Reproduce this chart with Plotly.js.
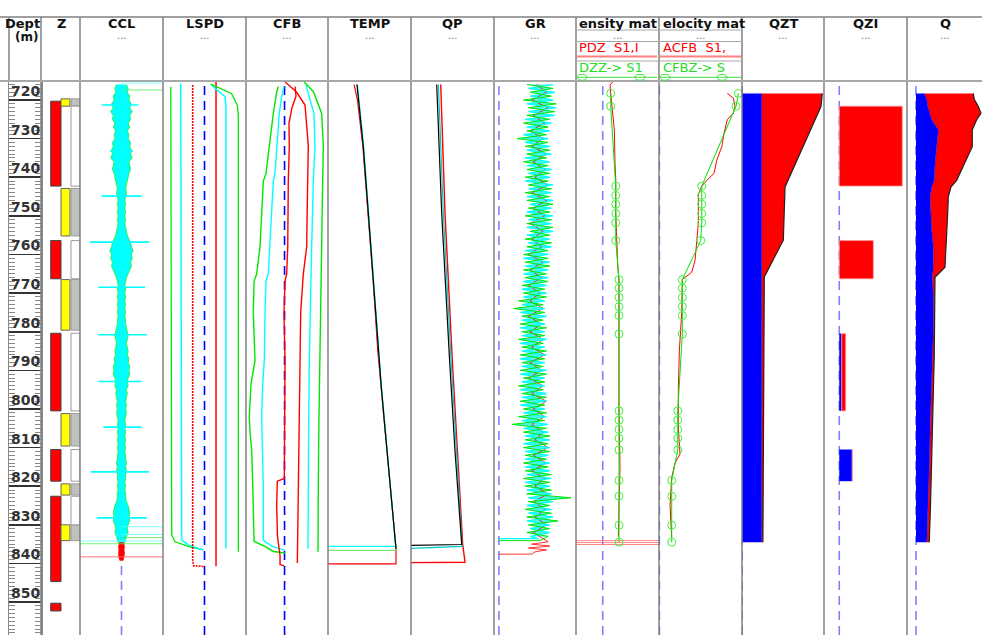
<!DOCTYPE html>
<html><head><meta charset="utf-8">
<script src="https://cdn.plot.ly/plotly-3.0.1.min.js"></script>
<style>html,body{margin:0;padding:0;background:#fff}#chart{width:982px;height:635px}</style>
</head><body><div id="chart"></div>
<script>
// ---------------- DATA (depth in m) ----------------
const depthTicks = [720, 730, 740, 750, 760, 770, 780, 790, 800, 810, 820, 830, 840, 850, 860];

// Z track: perforated (red), tested (yellow) intervals, open boxes
const zRedTop = [720.3, 756.4, 780.4, 810.5, 822.6, 850.3];
const zRedBottom = [742.3, 766.3, 800.5, 818.7, 844.7, 852.3];
const zYellowTop = [719.7, 742.9, 766.5, 801.2, 819.4, 830.0];
const zYellowBottom = [721.6, 755.2, 779.6, 809.6, 822.3, 834.1];
const zOpenTop = [721.6, 756.4, 780.4, 810.5, 822.6];
const zOpenBottom = [742.3, 766.3, 800.5, 818.7, 830.0];

// CCL: band half-width sampled every 1 m from 716 m
const cclTop = 716, cclStep = 1;
const cclHalfWidth = [6,8,7,10,9,12,10,13,10,11, 8,10,7,9,8,11,10,12,11,13, 9,10,11,9,8,7,6,5,6,5,
  4,5,4,5,4,5,4,5,6,7, 9,11,12,14,12,13,11,12,10,8, 6,5,4,5,4,5,4,5,4,5,
  4,5,5,6,7,8,7,6,7,8, 7,9,8,10,9,10,8,7,8,6, 7,6,5,6,5,6,5,4,5,4,
  5,4,5,4,5,4,5,5,6,5, 6,5,5,4,5,4,5,5,6,8, 9,10,9,10,8,7,8,6,5,3];
const cclRedDepth = [834.5, 835.5, 836.5, 837.5, 838.5, 839.2];
const cclRedHalfWidth = [2, 3.5, 3, 3.5, 3, 2];
const cclSpikeDepth = [721.3, 733.2, 744.9, 756.8, 768.5, 780.8, 792.9, 804.7, 816.3, 828.2];
const cclSpikeLeft = [-23.9, -13.9, -23.9, -38, -28, -28, -28, -21.9, -37.1, -29.9];
const cclSpikeRight = [20.2, 13.9, 24.3, 33.5, 28.3, 30.4, 24.3, 24.3, 33.1, 30.4];
const cclCyanTailDepth = [715.6, 830.5, 832.5, 834.2];
const cclCyanTailFrom = [0, 0, 0, -50];
const cclCyanTailTo = [50, 50, 50, 50];
const cclGreenTailDepth = [717.4, 833.3, 834.9];
const cclGreenTailFrom = [0, 0, -50];
const cclGreenTailTo = [50, 50, 50];
const cclRedTailDepth = [838.3];
const cclRedTailFrom = [-50];
const cclRedTailTo = [50];

// LSPD
const lspdGreenLDepth = [716.6, 740, 780, 820, 832.6, 834.4, 835.7, 836.5];
const lspdGreenL = [-32.5, -32.3, -32, -31.8, -31.6, -28.4, -14, -1];
const lspdCyanLDepth = [715.7, 760, 800, 833.9, 835.2, 836.5];
const lspdCyanL = [-22.9, -22.8, -22.6, -22, -15.6, -1.2];
const lspdRedLDepth = [716.1, 780, 839.1, 840.6, 840.8];
const lspdRedL = [-11.4, -11.4, -11.4, -10.5, -1];
const lspdRedRDepth = [715.3, 780, 840.7];
const lspdRedR = [11.1, 11.1, 11.1];
const lspdCyanRDepth = [716.1, 717, 719.1, 722, 780, 836.1];
const lspdCyanR = [6.9, 10, 19.8, 20.7, 20.7, 20.7];
const lspdGreenRDepth = [715.9, 718.3, 721.3, 724, 780, 837];
const lspdGreenR = [6, 26, 31.6, 32.6, 32.6, 32.6];

// CFB
const cfbGreenLDepth = [716.5, 718, 723.5, 728, 732, 739, 741, 748, 753, 758, 765, 767, 775, 781, 787.5, 793.5, 798, 802, 806, 811, 819.5, 828, 834.3, 835.6, 836.9, 837.3];
const cfbGreenL = [-7.6, -9.6, -13.7, -16.5, -18.6, -22.6, -25.9, -27.9, -28.7, -29.9, -34, -37.2, -38.1, -37.2, -36, -40.9, -42.1, -43, -42.1, -40, -38.8, -38.1, -37.2, -23.8, -13.7, 0.6];
const cfbCyanLDepth = [716.5, 719, 723.5, 732, 739, 741, 748, 758, 765, 767, 775, 787.5, 793.5, 802, 811, 820, 834, 835.5, 836.6];
const cfbCyanL = [-0.7, -3.5, -6.4, -8.8, -11.6, -13.7, -15.7, -17.7, -19.8, -22.6, -23.8, -24.7, -26.6, -27.9, -26.6, -25.9, -25.9, -15.3, 0.6];
const cfbRedLDepth = [716.5, 719, 722, 726, 732, 741, 758, 765, 767, 775, 787.5, 800, 818, 818.7, 825, 833, 838, 840.3, 840.6];
const cfbRedL = [12.8, 14, 9.1, 5.4, 5.8, 4.6, 3.9, 2.6, 0.6, -0.7, 0.6, 0.6, -0.3, -8.8, -9.6, -8.6, -5.5, -5.5, -0.7];
const cfbRedRDepth = [715.3, 718, 721.3, 726, 732, 741, 758, 765, 770, 775, 787.5, 802, 819, 838, 839.9];
const cfbRedR = [0.6, 14.8, 25, 27, 29, 28.2, 27, 22.9, 20.9, 19.7, 18.9, 18, 16.8, 15.6, 15.6];
const cfbCyanRDepth = [716.2, 723.5, 732, 741, 758, 775, 787.5, 802, 819, 836.2];
const cfbCyanR = [26.2, 35.9, 37.1, 35.1, 33.1, 31, 30.2, 29.5, 28.6, 28.6];
const cfbGreenRDepth = [715.3, 717.8, 723.5, 732, 741, 758, 775, 787.5, 802, 819, 837];
const cfbGreenR = [23.7, 35.1, 45.3, 47.3, 46.5, 45.3, 43.2, 42.4, 42, 41.2, 40.8];

// TEMP
const tempRedDepth = [716, 720, 732, 749.4, 766.8, 785, 793.6, 802.3, 810.9, 819.6, 828.2, 836, 840.1, 840.1];
const tempRed = [31.5, 35.5, 42, 48.3, 54.4, 60, 63.7, 67.3, 71, 74.6, 78.3, 81.9, 81.9, 0];
const tempGreenDepth = [716, 732, 749.4, 766.8, 785, 793.6, 802.3, 810.9, 819.6, 828.2, 836.6, 836.6];
const tempGreen = [35, 42.6, 48.7, 54.7, 60.3, 64, 67.6, 71.2, 74.8, 78.4, 81.9, 0];
const tempCyanDepth = [716, 732, 749.4, 766.8, 785, 793.6, 802.3, 810.9, 819.6, 828.2, 835.6, 835.6];
const tempCyan = [35.5, 43, 49, 55, 60.5, 64.2, 67.8, 71.4, 75, 78.6, 81.6, 0];
const tempBlackDepth = [716, 732, 749.4, 766.8, 785, 793.6, 802.3, 810.9, 819.6, 828.2, 836.2];
const tempBlack = [34.9, 42.5, 48.6, 54.6, 60.2, 63.9, 67.5, 71.1, 74.7, 78.3, 81.9];

// QP
const qpRedDepth = [716, 749.4, 787.5, 810.9, 835.1, 839.7, 839.8];
const qpRed = [35.8, 41, 49.8, 55.8, 62.3, 65.1, 0];
const qpCyanDepth = [716, 749.4, 787.5, 810.9, 835.6, 836.1];
const qpCyan = [33, 39, 48.3, 54.5, 61.6, 0];
const qpBlackDepth = [716, 749.4, 787.5, 810.9, 835.1, 835.3];
const qpBlack = [31, 37, 46.5, 53, 61.1, 0];

// GR sampled every 1 m (green, cyan) / 2 m (red) from 716 m
const grTop = 716, grStep = 1, grRedStep = 2;
const grGreen = [34,66,38,64,30,70,36,68,34,62, 30,60,34,58,22,60,32,62,34,58, 30,60,34,62,32,60,36,64,32,62,
  34,66,36,62,32,64,34,66,38,62, 32,64,34,60,30,60,32,62,30,58, 32,60,28,56,30,58,24,54,18,56,
  28,54,26,58,28,56,24,54,28,58, 26,56,28,54,26,58,30,56,24,54, 28,58,26,56,30,58,24,56,16,58,
  30,62,32,60,30,62,32,58,30,60, 32,64,30,62,32,64,34,88,36,62, 32,64,34,72,36,62,34,60];
const grCyan = [66,36,68,38,66,34,70,36,68,32, 64,34,62,30,60,32,62,34,64,32, 62,34,64,36,62,32,66,36,64,34,
  66,38,64,34,66,36,64,34,66,34, 62,36,64,32,60,30,62,32,60,30, 60,30,58,28,58,30,56,28,56,26,
  58,28,56,26,56,28,58,26,56,28, 58,26,56,28,58,26,56,28,56,26, 58,28,58,26,56,30,58,28,60,30,
  60,32,62,30,62,32,60,32,62,32, 62,34,64,32,62,34,64,36,66,34, 64,36,66,34,62,38,62,38];
const grRed = [46,58,40,60,42,56,38,54,40,58, 42,56,44,60,40,58,42,56,38,54, 40,52,36,54,38,52,36,50,38,54,
  36,52,38,54,40,56,38,52,36,54, 40,58,42,56,40,54,44,60,42,58, 40,56,44,60,42,56,44,58,42];
const grGreenEndDepth = [834.1, 834.1];
const grGreenEnd = [50, 0];
const grCyanEndDepth = [833.6, 833.6];
const grCyanEnd = [48, 0];
const grRedEndDepth = [834.4, 835, 835.5, 836, 836.5, 837, 837.6, 837.6];
const grRedEnd = [60, 40, 62, 36, 58, 44, 40, 0];

// Density / velocity match: model points (green) and measured (red)
const matchDepth = [718.3, 721.6, 742.3, 744.7, 747, 749.4, 751.8, 756.4, 766.5, 768.7, 771.1, 773.5, 775.8, 780.6, 800.5, 802.9, 805.3, 807.6, 810.6, 818.5, 822.6, 830.1, 834.5];
const densModel = [9.6, 9.6, 15.7, 15.7, 15.7, 15.7, 15.7, 15.7, 19.6, 19.6, 19.6, 19.6, 19.6, 19.6, 19.6, 19.6, 19.6, 19.6, 19.6, 19.6, 19.6, 19.6, 19.6];
const densMeasDepth = [715.3, 716.1, 718.3, 721.7, 727.8, 736.4, 740.7, 749.3, 758, 763.2, 766.6, 780, 800, 814.9, 825, 833.1];
const densMeas = [12.1, 8.8, 9.6, 11.4, 14, 14.8, 15.7, 15.7, 16.9, 18.1, 19.6, 19.6, 19.6, 20.8, 19.6, 18.8];
const densTailDepth = [834.1, 834.6, 835.1];
const velModel = [95.2, 92.4, 51.1, 51.1, 51.1, 51.1, 51.1, 49.9, 27.7, 27.7, 27.7, 27.7, 27.7, 27.7, 22.2, 22.2, 22.2, 22.2, 22.2, 14.9, 14.9, 14.9, 14.9];
const velMeasDepth = [718.3, 719.5, 721.7, 723.4, 725.1, 728.6, 732.1, 735.6, 739, 740.8, 742.3, 744.5, 752, 756.5, 758.1, 761.6, 764.6, 766.5, 775, 785, 795, 805, 811.7, 814, 817.8, 825, 833.4];
const velMeas = [81.9, 89.2, 91.2, 89.2, 81.9, 78, 75.2, 69.2, 65.9, 57.1, 51.1, 47, 47, 45.4, 44.2, 43, 39, 27.7, 27, 24.1, 22.9, 22.9, 24.9, 18.9, 14.9, 12.9, 14.9];

// QZT cumulative
const qztDepth = [718.3, 721.7, 742.5, 756.3, 765.8, 834.5];
const qztWater = [24, 24, 24, 24, 24, 24];
const qztTotal = [97.9, 96.3, 52.5, 50.4, 27.2, 25.5];

// QZI per layer
const qziTop = [721.6, 756.4, 780.5, 810.5];
const qziBottom = [742.3, 766.3, 800.5, 818.7];
const qziWater = [0, 0, 2.9, 15.7];
const qziOil = [75.9, 41, 4.8, 0];

// Q profile
const qDepth = [718.3, 719.9, 721.7, 723.4, 725.1, 727.7, 732.1, 736.4, 740.8, 742.5, 745.1, 749.4, 753.8, 758.1, 763.3, 765.9, 771.1, 779.8, 786.7, 795, 805, 815, 825, 834.5];
const qWater = [10, 12.9, 14.1, 16.9, 18.9, 26.9, 24.9, 22.9, 22, 18.9, 16.9, 17.5, 18.9, 20.8, 20.8, 19.6, 20.8, 20.8, 19.6, 18.5, 17, 16, 14.5, 13];
const qTotal = [69, 70.3, 75.1, 78.3, 73.1, 67.8, 67.8, 59, 49, 42.2, 38.9, 38.2, 37.3, 35.8, 34.9, 22.9, 22.9, 22.9, 22, 21, 20, 19, 17.5, 16];

// Header labels
const trackTitles = ['Z', 'CCL', 'LSPD', 'CFB', 'TEMP', 'QP', 'GR', 'QZT', 'QZI', 'Q'];

// ---------------- LAYOUT ----------------
const W = 982, H = 635, TOP = 82;
const edges = [9, 41, 80, 163, 246, 328, 411, 494, 576, 659, 742, 824, 907, 990];
const PX = x => x / W;
const HY = p => 1 + (TOP - p) / (H - TOP);
const DEPTH_RANGE = [858.53, 715.34];
const RED = '#ff0000', GREEN = '#00e600', CYAN = '#00ffff', BLUE = '#0000ff', BLACK = '#000000';

const trackRanges = {2:[0,3.9], 3:[-50,50], 4:[-40,40], 5:[-47,53], 6:[0,100], 7:[0,100], 8:[-6,94],
  9:[-32.2,67.8], 10:[-0.4,99.6], 11:[0,100], 12:[-18.4,81.6], 13:[-10.8,79.5]};

const layout = {
  width: W, height: H, margin: {l:0, r:0, t:TOP, b:0, pad:0},
  paper_bgcolor: '#fff', plot_bgcolor: '#fff', showlegend: false, barmode: 'overlay',
  font: {family: 'Liberation Sans, Arial, sans-serif', color: '#000'},
  xaxis: {domain: [PX(edges[0]), PX(edges[1])], range: [0, 1], visible: false, fixedrange: true},
  yaxis: {domain: [0, 1], range: DEPTH_RANGE, anchor: 'x', side: 'left', fixedrange: true,
    tick0: 0, dtick: 10, ticks: 'inside', ticklen: 32, tickwidth: 1.6, tickcolor: '#333',
    showticklabels: false, showgrid: false, zeroline: false,
    showline: true, linecolor: '#888', linewidth: 1.5, mirror: 'ticks',
    minor: {dtick: 1, ticks: 'inside', ticklen: 6, tickcolor: '#888', tickwidth: 1, showgrid: false}},
  yaxis2: {domain: [0, 1], range: DEPTH_RANGE, anchor: 'x2', visible: false, fixedrange: true},
  shapes: [], annotations: []
};
for (let n = 2; n <= 13; n++) {
  layout['xaxis' + n] = {domain: [PX(edges[n-1]), Math.min(PX(edges[n]), 1)], range: trackRanges[n],
    anchor: 'y2', visible: false, fixedrange: true};
}

// depth labels, sitting on each 10 m line
depthTicks.forEach(d => layout.annotations.push({xref:'x', yref:'y', x:1, y:d, text:String(d), showarrow:false,
  xanchor:'right', yanchor:'bottom', xshift:1, yshift:-1, font:{family:'DejaVu Sans', size:14, color:'#333', weight:'bold'}}));

// zero / baseline dashed lines
const zeroLines = [[3,'#8080ff','below'],[4,'#0000ff','below'],[5,'#0000ff','below'],[8,'#8080ff','below'],
  [9,'#8080ff','below'],[10,'#6060ff','above'],[11,'#4040ff','below'],[12,'#8080ff','below'],[13,'#8080ff','below']];
zeroLines.forEach(([n, c, layer]) => layout.shapes.push({type:'line', xref:'x'+n, yref:'paper', x0:0, x1:0, y0:0, y1:1,
  line:{color:c, width:1.6, dash:'9px,6px'}, layer}));

// track separators and header frame
for (let i = 1; i <= 12; i++) layout.shapes.push({type:'line', xref:'paper', yref:'paper', x0:PX(edges[i]), x1:PX(edges[i]),
  y0:0, y1:HY(17), line:{color:'#808080', width:1.5}});
layout.shapes.push({type:'line', xref:'paper', yref:'paper', x0:PX(edges[0]), x1:PX(edges[0]), y0:1, y1:HY(17), line:{color:'#808080', width:1.5}});
layout.shapes.push({type:'line', xref:'paper', yref:'paper', x0:0, x1:1, y0:HY(17), y1:HY(17), line:{color:'#808080', width:1.5}});
layout.shapes.push({type:'line', xref:'paper', yref:'paper', x0:0, x1:1, y0:HY(81), y1:HY(81), line:{color:'#a8a8a8', width:2}});
[30, 41.5, 61].forEach(p => layout.shapes.push({type:'line', xref:'paper', yref:'paper', x0:PX(576), x1:PX(742), y0:HY(p), y1:HY(p), line:{color:'#a8a8a8', width:1}}));
// header legend samples
[[577,657],[660,741]].forEach(([a,b]) => {
  layout.shapes.push({type:'line', xref:'paper', yref:'paper', x0:PX(a), x1:PX(b), y0:HY(56.5), y1:HY(56.5), line:{color:'#ff8080', width:2}});
  layout.shapes.push({type:'line', xref:'paper', yref:'paper', x0:PX(a), x1:PX(b), y0:HY(77.3), y1:HY(77.3), line:{color:'#40e040', width:1}});
});
[582, 640, 665, 722].forEach(cx => layout.shapes.push({type:'circle', xref:'paper', yref:'paper', x0:PX(cx-5), x1:PX(cx+5),
  y0:HY(80.3), y1:HY(74.3), line:{color:'#40e040', width:1}, fillcolor:'rgba(0,0,0,0)'}));

// header text
const titleCenters = [61, 121.5, 204.5, 287, 369.5, 452.5, 535, 783, 865.5, 945];
const titleFont = {family: 'DejaVu Sans', size: 13, color: '#111', weight: 'bold'};
function ann(x, p, text, font, xanchor) {
  layout.annotations.push({xref:'paper', yref:'paper', x:PX(x), y:HY(p), text, showarrow:false,
    xanchor: xanchor || 'center', yanchor:'middle', font});
}
trackTitles.forEach((t, i) => ann(titleCenters[i], 23.5, t, titleFont));
ann(42, 23, 'Dept', {family:'DejaVu Sans', size:13, color:'#111', weight:'bold'}, 'right');
ann(26, 37, '(m)', {family:'DejaVu Sans', size:12, color:'#111', weight:'bold'});
ann(577, 23.5, 'ensity mat', titleFont, 'left');
ann(661, 23.5, 'elocity mat', titleFont, 'left');
const dotFont = {family:'DejaVu Sans', size:10, color:'#777'};
[121.5, 204.5, 287, 369.5, 452.5, 535, 617.5, 700.5, 783, 865.5, 945].forEach(x => ann(x, 35.5, '...', dotFont));
const legFont = (c) => ({family:'DejaVu Sans', size:13, color:c});
ann(577, 48, 'PDZ  S1,I', legFont('#ff0000'), 'left');
ann(661, 48, 'ACFB  S1,', legFont('#ff0000'), 'left');
ann(577, 67, 'DZZ-> S1', legFont('#22dd22'), 'left');
ann(661, 67, 'CFBZ-> S', legFont('#22dd22'), 'left');

// ---------------- TRACES ----------------
const traces = [];
const ax = n => n === 1 ? 'x' : 'x' + n;
function line(n, x, y, color, width, extra) {
  traces.push(Object.assign({type:'scatter', mode:'lines', x, y, xaxis:ax(n), yaxis:'y2',
    line:{color, width: width || 1.3}, hoverinfo:'skip'}, extra || {}));
}
function segments(n, depth, from, to, color, width, opacity) {
  const x = [], y = [];
  depth.forEach((d, i) => { x.push(from[i], to[i], null); y.push(d, d, null); });
  line(n, x, y, color, width, {opacity: opacity || 1, connectgaps:false});
}
const idxDepth = (top, step, arr) => arr.map((_, i) => top + step * i);

// depth column (keeps the ruler axis)
traces.push({type:'scatter', x:[], y:[], xaxis:'x', yaxis:'y', hoverinfo:'skip'});

// Z track
const ZC = {red:1.485, redW:1.03, yel:2.45, yelW:0.9, box:3.45, boxW:0.9};
function zbars(top, bottom, xc, w, color, lc) {
  traces.push({type:'bar', x: top.map(() => xc), base: top, y: bottom.map((b, i) => b - top[i]), width: w,
    xaxis:'x2', yaxis:'y2', marker:{color, line:{color: lc, width:1}}, hoverinfo:'skip'});
}
zbars(zRedTop, zRedBottom, ZC.red, ZC.redW, '#ff0000', '#444');
zbars(zYellowTop, zYellowBottom, ZC.yel, ZC.yelW, '#ffff00', '#666');
zbars(zYellowTop, zYellowBottom, ZC.box, ZC.boxW, '#c0c0c0', '#999');
zbars(zOpenTop, zOpenBottom, ZC.box, ZC.boxW, '#ffffff', '#999');

// CCL
const cclD = idxDepth(cclTop, cclStep, cclHalfWidth);
line(3, cclHalfWidth.map(v => -v).concat(cclHalfWidth.slice().reverse()), cclD.concat(cclD.slice().reverse()),
  '#22ee22', 0.8, {fill:'toself', fillcolor:CYAN});
line(3, cclRedHalfWidth.map(v => -v).concat(cclRedHalfWidth.slice().reverse()), cclRedDepth.concat(cclRedDepth.slice().reverse()),
  RED, 0.8, {fill:'toself', fillcolor:RED});
segments(3, cclSpikeDepth, cclSpikeLeft, cclSpikeRight, CYAN, 1.6);
segments(3, cclCyanTailDepth, cclCyanTailFrom, cclCyanTailTo, '#66ffff', 1, 0.8);
segments(3, cclGreenTailDepth, cclGreenTailFrom, cclGreenTailTo, '#55ee55', 1, 0.8);
segments(3, cclRedTailDepth, cclRedTailFrom, cclRedTailTo, '#ff6666', 1, 0.9);

// LSPD
line(4, lspdGreenL, lspdGreenLDepth, GREEN, 1.3);
line(4, lspdCyanL, lspdCyanLDepth, CYAN, 1.5);
line(4, lspdRedL, lspdRedLDepth, RED, 1.5, {line:{color:RED, width:1.6, dash:'2px,1px'}});
line(4, lspdRedR, lspdRedRDepth, RED, 1.5);
line(4, lspdCyanR, lspdCyanRDepth, CYAN, 1.5);
line(4, lspdGreenR, lspdGreenRDepth, GREEN, 1.3);

// CFB
line(5, cfbGreenL, cfbGreenLDepth, GREEN, 1.4);
line(5, cfbCyanL, cfbCyanLDepth, CYAN, 1.4);
line(5, cfbRedL, cfbRedLDepth, RED, 1.4);
line(5, cfbRedR, cfbRedRDepth, RED, 1.4);
line(5, cfbCyanR, cfbCyanRDepth, CYAN, 1.4);
line(5, cfbGreenR, cfbGreenRDepth, GREEN, 1.4);

// TEMP
line(6, tempRed, tempRedDepth, RED, 1.2);
line(6, tempGreen, tempGreenDepth, '#55e055', 1);
line(6, tempCyan, tempCyanDepth, CYAN, 1.2);
line(6, tempBlack, tempBlackDepth, BLACK, 1.2);

// QP
line(7, qpRed, qpRedDepth, RED, 1.4);
line(7, qpCyan, qpCyanDepth, '#00cccc', 1.2);
line(7, qpBlack, qpBlackDepth, BLACK, 1.2);

// GR: filled band between the two passes, lines on top
const grGD = idxDepth(grTop, grStep, grGreen), grCD = idxDepth(grTop, grStep, grCyan);
line(8, grGreen, grGD, 'rgba(0,0,0,0)', 0);
line(8, grCyan, grCD, 'rgba(0,0,0,0)', 0, {fill:'tonextx', fillcolor:'rgba(40,245,225,0.85)'});
line(8, grRed.concat(grRedEnd), idxDepth(grTop, grRedStep, grRed).concat(grRedEndDepth), RED, 1, {opacity:0.8});
line(8, grCyan.concat(grCyanEnd), grCD.concat(grCyanEndDepth), CYAN, 1.3);
line(8, grGreen.concat(grGreenEnd), grGD.concat(grGreenEndDepth), GREEN, 1);

// Density match
segments(9, densTailDepth, densTailDepth.map(() => trackRanges[9][0]), densTailDepth.map(() => trackRanges[9][1]), '#ff7777', 1, 0.9);
line(9, densMeas, densMeasDepth, RED, 1);
line(9, densModel, matchDepth, GREEN, 1, {mode:'lines+markers', marker:{symbol:'circle-open', size:8, color:'#44ee44', line:{width:1}}});

// Velocity match
line(10, velMeas, velMeasDepth, RED, 1);
line(10, velModel, matchDepth, GREEN, 1, {mode:'lines+markers', marker:{symbol:'circle-open', size:8, color:'#44ee44', line:{width:1}}});

// QZT
line(11, qztWater, qztDepth, BLUE, 0.5, {fill:'tozerox', fillcolor:BLUE});
line(11, qztTotal, qztDepth, '#222', 1.2, {fill:'tonextx', fillcolor:RED});

// QZI
const qziMid = qziTop.map((t, i) => (t + qziBottom[i]) / 2);
const qziThick = qziTop.map((t, i) => qziBottom[i] - t);
traces.push({type:'bar', orientation:'h', y:qziMid, x:qziWater, base:0, width:qziThick, xaxis:'x12', yaxis:'y2',
  marker:{color:BLUE, line:{width:0}}, hoverinfo:'skip'});
traces.push({type:'bar', orientation:'h', y:qziMid, x:qziOil, base:qziWater, width:qziThick, xaxis:'x12', yaxis:'y2',
  marker:{color:RED, line:{color:'#ff9999', width:0.8}}, hoverinfo:'skip'});

// Q
line(13, qWater, qDepth, BLUE, 0.5, {fill:'tozerox', fillcolor:BLUE});
line(13, qTotal, qDepth, '#222', 1.2, {fill:'tonextx', fillcolor:RED});

Plotly.newPlot('chart', traces, layout, {staticPlot: true, displayModeBar: false});
</script>
</body></html>
